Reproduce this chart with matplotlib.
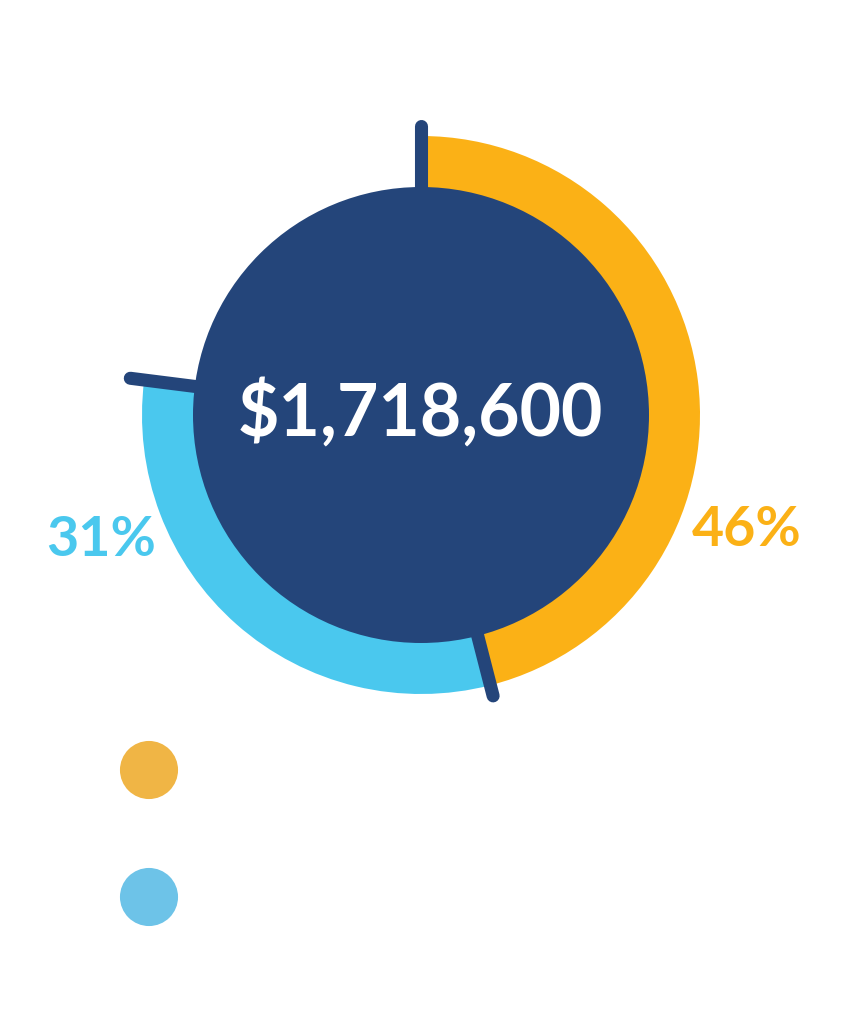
import numpy as np
import matplotlib
matplotlib.use("Agg")
import matplotlib.pyplot as plt
from matplotlib.patches import Circle

plt.rcParams['font.family'] = ['Lato', 'DejaVu Sans']

# data
total_label = "$1,718,600"
shares = [46, 31, 23]          # last slice is the empty gap
ring_colors = ['#FBB116', '#4AC8EE', 'none']
share_labels = ['46%', '31%']
legend_colors = ['#F0B545', '#6DC3E8']

navy = '#24457A'
W, H = 849, 1024
cx, cy = 421, H - 415
r_out, ring_w = 279, 52

fig = plt.figure(figsize=(W / 100, H / 100), dpi=100)
ax = fig.add_axes([0, 0, 1, 1])

ax.pie(shares, colors=ring_colors, startangle=90, counterclock=False,
       radius=r_out, center=(cx, cy),
       wedgeprops=dict(width=ring_w, linewidth=0))

# separator ticks at the slice boundaries
bounds = np.concatenate([[0], np.cumsum(shares[:2])]) / sum(shares) * 360
tick_len = [289, 290, 293]
for b, rl in zip(bounds, tick_len):
    a = np.deg2rad(90 - b)
    ax.plot([cx + 150 * np.cos(a), cx + rl * np.cos(a)],
            [cy + 150 * np.sin(a), cy + rl * np.sin(a)],
            color=navy, lw=9.4, solid_capstyle='round', zorder=3)

ax.add_patch(Circle((cx, cy), r_out - ring_w + 1, color=navy, lw=0, zorder=4))
ax.text(cx - 1, cy + 1, total_label, color='white', fontsize=51.5,
        fontweight='bold', ha='center', va='center', zorder=5)

ax.text(747, H - 530, share_labels[0], color=ring_colors[0], fontsize=40,
        fontweight='bold', ha='center', va='center')
ax.text(101, H - 540, share_labels[1], color=ring_colors[1], fontsize=40,
        fontweight='bold', ha='center', va='center')

# legend dots (no text in the source)
ax.scatter([149, 149], [H - 770, H - 897], s=1750, c=legend_colors,
           linewidths=0, zorder=3)

ax.set_xlim(0, W)
ax.set_ylim(0, H)
ax.set_aspect('equal')
ax.axis('off')

fig.savefig('out.png', dpi=100, facecolor='white')
